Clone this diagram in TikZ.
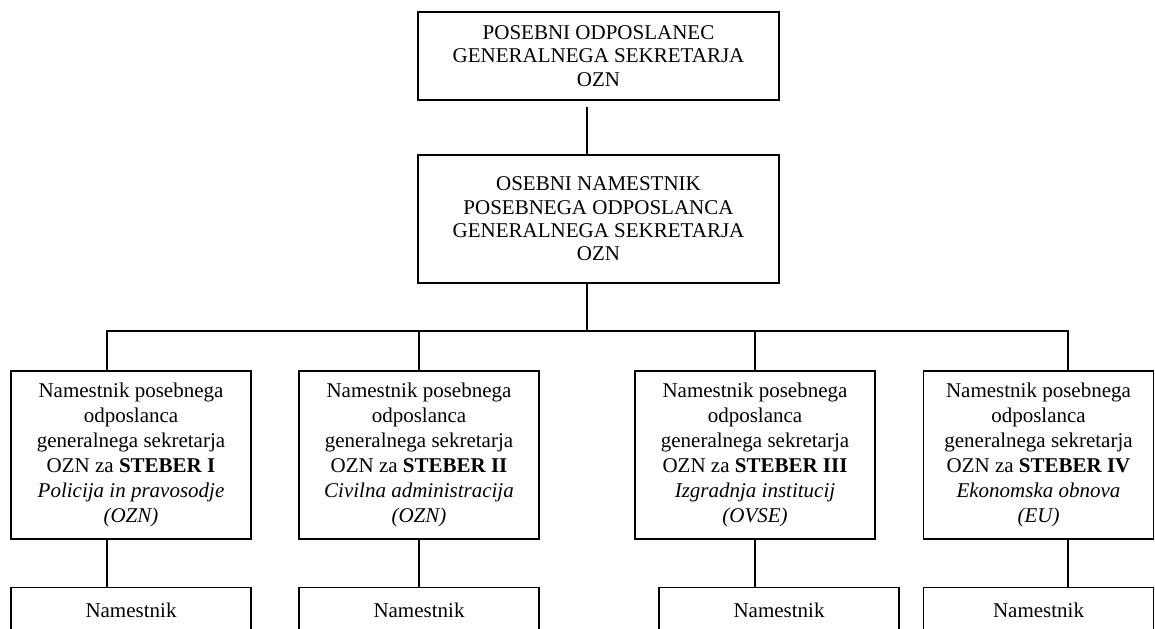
\documentclass[tikz,border=0pt]{standalone}
\usepackage{fontspec}
\setmainfont{Liberation Serif}

\begin{document}
\begin{tikzpicture}[
  x=0.6pt, y=-0.6pt,
  box/.style={
    draw,
    line width=0.8pt,
    align=center,
    inner sep=0pt,
    font=\fontsize{12.6}{14}\selectfont
  },
  headbox/.style={box, minimum width=216.6pt},
  pillar/.style={box, minimum width=144pt, minimum height=100.8pt,
    font=\fontsize{12.6}{14.9}\selectfont},
  subbox/.style={box, anchor=north, minimum width=144pt,
    text height=8pt, text depth=60pt, inner ysep=10pt},
  link/.style={line width=0.8pt}
]
\clip (0,0) rectangle (1155,629);

\node[headbox, minimum height=52.8pt] (envoy) at (598.5,56) {POSEBNI ODPOSLANEC\\GENERALNEGA SEKRETARJA\\OZN};
\node[headbox, minimum height=76.8pt] (deputy) at (598.5,219) {OSEBNI NAMESTNIK\\POSEBNEGA ODPOSLANCA\\GENERALNEGA SEKRETARJA\\OZN};

\node[pillar] (p1) at (131,455) {Namestnik posebnega\\odposlanca\\generalnega sekretarja\\OZN za \textbf{STEBER I}\\\textit{Policija in pravosodje}\\\textit{(OZN)}};
\node[pillar] (p2) at (419,455) {Namestnik posebnega\\odposlanca\\generalnega sekretarja\\OZN za \textbf{STEBER II}\\\textit{Civilna administracija}\\\textit{(OZN)}};
\node[pillar] (p3) at (755,455) {Namestnik posebnega\\odposlanca\\generalnega sekretarja\\OZN za \textbf{STEBER III}\\\textit{Izgradnja institucij}\\\textit{(OVSE)}};
\node[pillar, minimum width=138pt] (p4) at (1038.5,455) {Namestnik posebnega\\odposlanca\\generalnega sekretarja\\OZN za \textbf{STEBER IV}\\\textit{Ekonomska obnova}\\\textit{(EU)}};

\node[subbox] (s1) at (131,587) {Namestnik};
\node[subbox] (s2) at (419,587) {Namestnik};
\node[subbox] (s3) at (779,587) {Namestnik};
\node[subbox, minimum width=138pt] (s4) at (1038.5,587) {Namestnik};

% bus
\coordinate (hub) at (587,331);
\coordinate (b1) at (107,331);
\coordinate (b2) at (419,331);
\coordinate (b3) at (755,331);
\coordinate (b4) at (1068,331);

\draw[link, shorten <=3.6pt] (envoy.south -| hub) -- (deputy.north -| hub);
\draw[link] (deputy.south -| hub) -- (hub);
\draw[link] (p1.north -| b1) -- (b1) -- (hub);
\draw[link] (p2.north -| b2) -- (b2);
\draw[link] (p3.north -| b3) -- (b3);
\draw[link] (p4.north -| b4) -- (b4) -- (hub);

\draw[link] (p1.south -| b1) -- (s1.north -| b1);
\draw[link] (p2.south -| b2) -- (s2.north -| b2);
\draw[link] (p3.south -| b3) -- (s3.north -| b3);
\draw[link] (p4.south -| b4) -- (s4.north -| b4);
\end{tikzpicture}
\end{document}
